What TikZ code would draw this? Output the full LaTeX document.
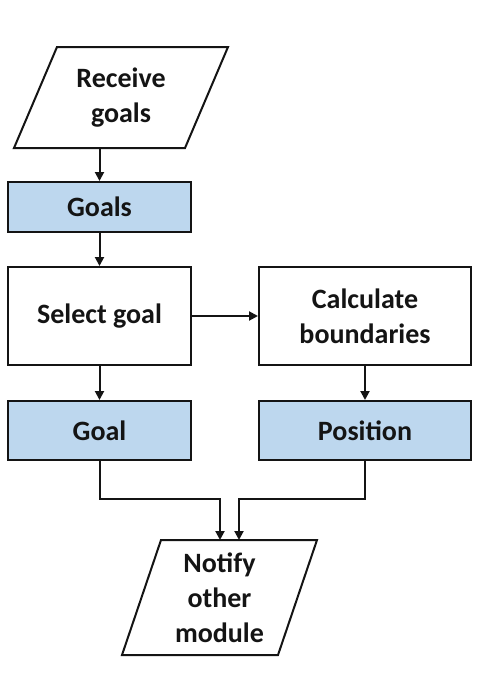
\documentclass[tikz,border=0pt]{standalone}
\usepackage{fontspec}
\setmainfont{Carlito}
\usetikzlibrary{arrows.meta}
\definecolor{boxblue}{RGB}{189,215,238}
\definecolor{ink}{RGB}{20,20,20}
\tikzset{
  base/.style={draw=ink, line width=2pt, text=ink, font=\fontsize{28}{35}\selectfont\bfseries, align=center, inner sep=0pt},
  procbox/.style={base, fill=white, minimum width=183pt, minimum height=98pt},
  wideproc/.style={base, fill=white, minimum width=212pt, minimum height=98pt},
  databox/.style={base, fill=boxblue, minimum width=183pt, minimum height=50pt},
  widedata/.style={base, fill=boxblue, minimum width=212pt, minimum height=59pt},
  gdata/.style={base, fill=boxblue, minimum width=183pt, minimum height=59pt},
  io/.style={draw=ink, line width=2pt, fill=white, line join=miter},
  iotext/.style={text=ink, font=\fontsize{28}{35}\selectfont\bfseries, align=center, inner sep=0pt},
  conn/.style={draw=ink, line width=2pt, -{Triangle[length=9pt,width=9pt]}},
}
\begin{document}
\begin{tikzpicture}[x=1pt,y=-1pt]
\useasboundingbox[fill=white] (0,0) rectangle (480,699);
% Receive goals (parallelogram)
\draw[io] (57,47) -- (228,47) -- (185,148) -- (14,148) -- cycle;
\node[iotext] (receive) at (121,98) {Receive\\goals};
\coordinate (recvB) at (99.5,148);
% Goals
\node[databox] (goals) at (99.5,207) {Goals};
% Select goal
\node[procbox] (select) at (99.5,316) {Select goal};
% Calculate boundaries
\node[wideproc] (calc) at (365,316) {Calculate\\boundaries};
% Goal
\node[gdata] (goal) at (99.5,430.5) {Goal};
% Position
\node[widedata] (pos) at (365,430.5) {Position};
% Notify other module (parallelogram)
\draw[io] (161,540) -- (317,540) -- (278,655) -- (122,655) -- cycle;
\node[iotext] (notify) at (219.5,598) {Notify\\other\\module};
\coordinate (notA) at (220,540);
\coordinate (notB) at (239,540);
% connectors
\draw[conn] (recvB) -- (goals.north);
\draw[conn] (goals.south) -- (select.north);
\draw[conn] (select.east) -- (calc.west);
\draw[conn] (select.south) -- (goal.north);
\draw[conn] (calc.south) -- (pos.north);
\draw[conn] (goal.south) |- (notA |- 0,499) -- (notA);
\draw[conn] (pos.south) |- (notB |- 0,499) -- (notB);
\end{tikzpicture}
\end{document}
